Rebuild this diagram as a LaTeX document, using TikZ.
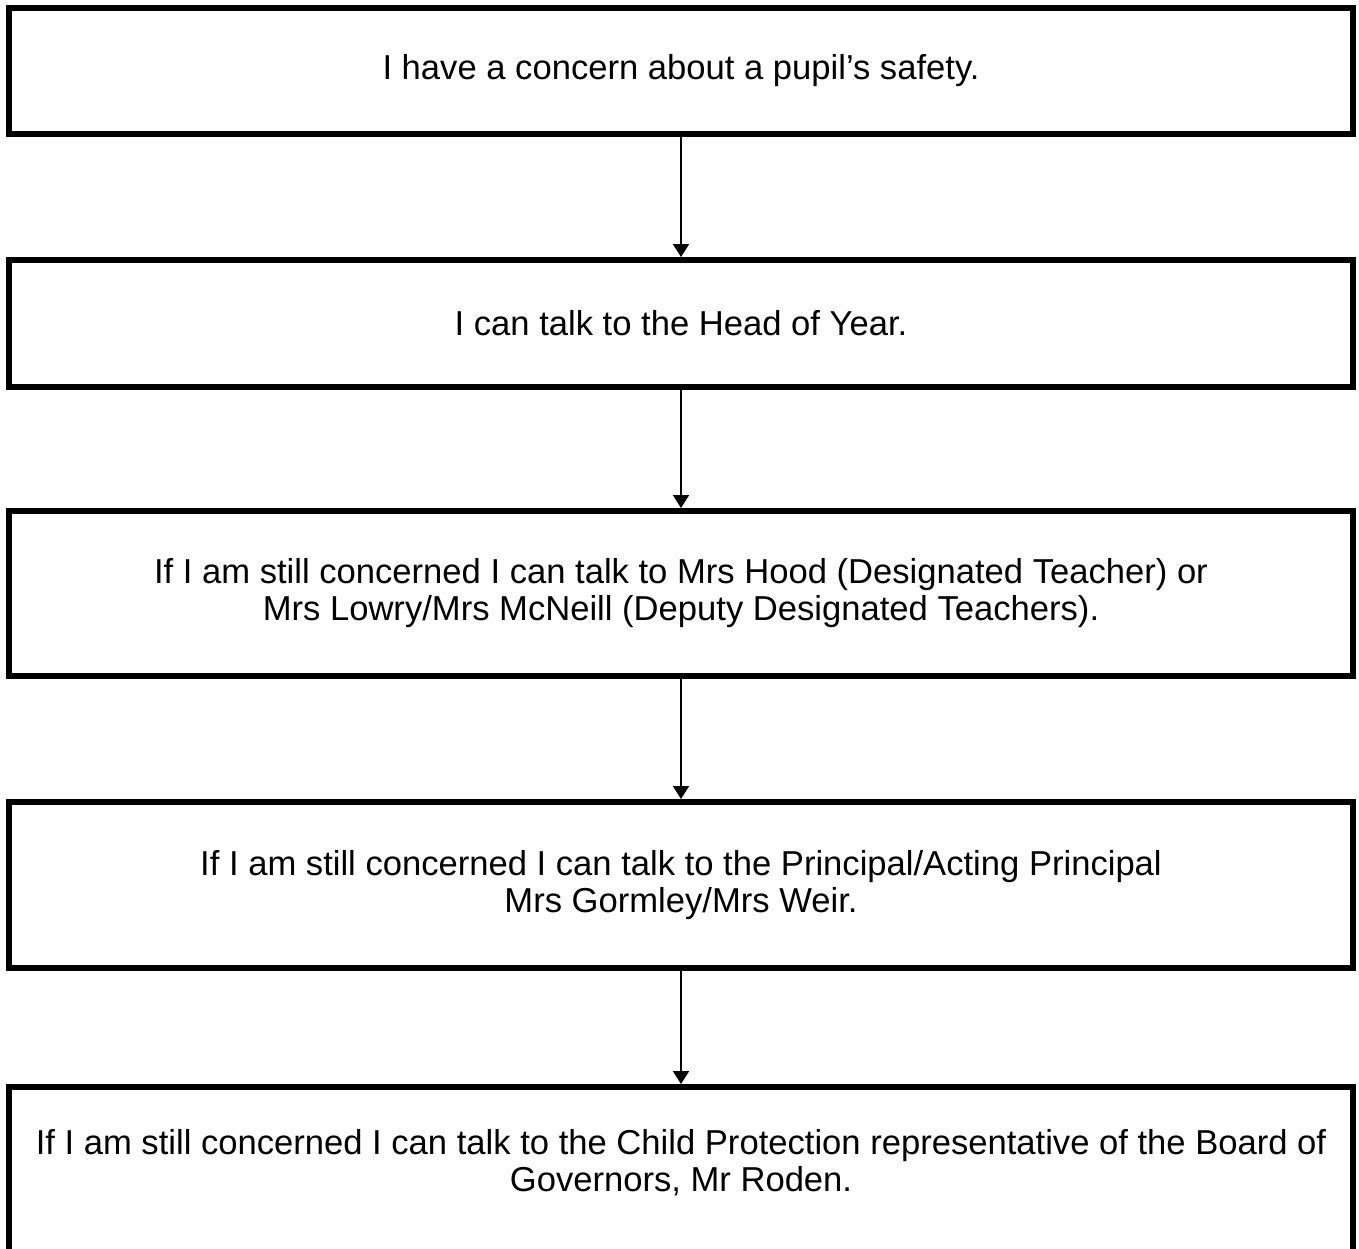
\documentclass[tikz,border=0pt]{standalone}
\usepackage{fontspec}
\setmainfont{Liberation Sans}
\usetikzlibrary{arrows.meta}
\begin{document}
\begin{tikzpicture}[x=1pt,y=-1pt,
  stepbox/.style={draw=black, line width=6pt, minimum width=1344pt, inner sep=0pt,
    align=center, font=\fontsize{34.6}{37}\selectfont},
  flow/.style={line width=2pt, -{Triangle[width=16pt,length=13pt]}}]
\useasboundingbox (0,0) rectangle (1359,1248);
\node[stepbox, minimum height=126pt] (b1) at (681,71) {I have a concern about a pupil’s safety.};
\node[stepbox, minimum height=127pt] (b2) at (681,323.5) {I can talk to the Head of Year.};
\node[stepbox, minimum height=165pt] (b3) at (681,593.5) {If I am still concerned I can talk to Mrs Hood (Designated Teacher) or\\Mrs Lowry/Mrs McNeill (Deputy Designated Teachers).};
\node[stepbox, minimum height=166pt] (b4) at (681,885) {If I am still concerned I can talk to the Principal/Acting Principal\\Mrs Gormley/Mrs Weir.};
\node[stepbox, minimum height=173pt, text height=62pt, text depth=27pt] (b5) at (681,1173.5) {If I am still concerned I can talk to the Child Protection representative of the Board of\\Governors, Mr Roden.};
\draw[flow] (b1.south) -- (b2.north);
\draw[flow] (b2.south) -- (b3.north);
\draw[flow] (b3.south) -- (b4.north);
\draw[flow] (b4.south) -- (b5.north);
\end{tikzpicture}
\end{document}
